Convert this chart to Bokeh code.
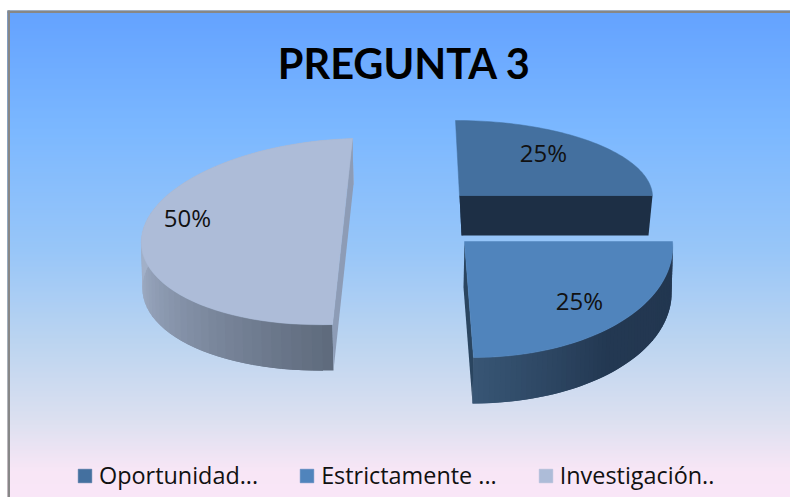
import numpy as np
from bokeh.embed import file_html
from bokeh.resources import INLINE
from bokeh.plotting import figure
from bokeh.models import Range1d, Legend, LegendItem
from bokeh.core.properties import value

title_text = "PREGUNTA 3"
categories = ["Oportunidad...", "Estrictamente ...", "Investigación.."]
shares = [25, 25, 50]

W, H = 790, 497
p = figure(width=W, height=H, output_backend="svg", toolbar_location=None,
           x_range=Range1d(0, W), y_range=Range1d(H, 0),
           min_border=0, background_fill_color="white", border_fill_color="white")
p.axis.visible = False
p.grid.visible = False
p.outline_line_color = None


def hexs(rgb):
    return "#%02x%02x%02x" % tuple(int(round(c)) for c in rgb)


def ramp(stops, ts):
    pos = [s[0] for s in stops]
    out = []
    for t in ts:
        out.append(hexs([np.interp(t, pos, [s[1][i] for s in stops]) for i in range(3)]))
    return out


# background gradient: overlapping bands, one per pixel row
bg_stops = [(10, (0x64, 0xa2, 0xff)), (130, (0x7c, 0xb8, 0xff)), (250, (0x98, 0xc6, 0xf8)),
            (340, (0xbb, 0xd4, 0xf0)), (420, (0xdc, 0xe0, 0xf0)), (470, (0xf8, 0xe6, 0xf6)),
            (497, (0xf9, 0xe6, 0xf7))]
rows = np.arange(10, H)
p.quad(left=7, right=W, top=rows, bottom=np.minimum(rows + 3, H), fill_color=ramp(bg_stops, rows),
       line_color=None)
# frame on the left and top
p.quad(left=[7, 7], right=[9.5, W], top=[10, 10], bottom=[H, 12.5], fill_color="#878787",
       line_color=None)

# 3D pie: every slice is an affine view of a circle sector, angles come from the shares
geom = [
    dict(o=(459, 195), a=(193, 0), b=(-4, -75), d0=(2, 40), d1=(-4, 40), top="#44709f",
         wall=[(0, (0x1d, 0x2f, 0x45)), (1, (0x1d, 0x2f, 0x45))], cut="#1d2f45", cut2="#2c4a6c"),
    dict(o=(464, 241), a=(208, 0), b=(-9, -116), d0=(-1, 46), d1=(-1, 46), top="#5084bc",
         wall=[(0, (0x22, 0x36, 0x4f)), (0.55, (0x23, 0x38, 0x52)), (1, (0x38, 0x56, 0x75))],
         cut="#2a4560", cut2="#2a4560"),
    dict(o=(342, 231), a=(201, -6), b=(10, -93), d0=(1, 46), d1=(1, 46), top="#adbcd8",
         wall=[(0, (0x5e, 0x6a, 0x7c)), (0.25, (0x80, 0x8d, 0xa3)), (0.5, (0xa2, 0xb0, 0xc8)),
               (1, (0xa2, 0xb0, 0xc8))], cut="#8d9cb6", cut2="#8d9cb6"),
]

bounds = np.cumsum([0] + shares) / sum(shares) * 2 * np.pi
tops = {}
N = 60
for i in [2, 0, 1]:
    g = geom[i]
    th = np.linspace(bounds[i], bounds[i + 1], N + 1)
    ox, oy = g["o"]
    rx = ox + g["a"][0] * np.sin(th) + g["b"][0] * np.cos(th)
    ry = oy + g["a"][1] * np.sin(th) + g["b"][1] * np.cos(th)
    d = g["d1"]
    d0 = g["d0"]
    # curved outer wall, shaded band by band, bands overlap to avoid seams
    ts = (np.arange(N) + 0.5) / N
    idx = [(j, min(j + 2, N)) for j in range(N)]
    xs = [[rx[j], rx[k], rx[k] + d[0], rx[j] + d[0]] for j, k in idx]
    ys = [[ry[j], ry[k], ry[k] + d[1], ry[j] + d[1]] for j, k in idx]
    cols = ramp(g["wall"], ts)
    if i != 0:
        p.patches(xs, ys, fill_color=cols, line_color=None)
    # straight cut walls
    if i == 2:
        p.patch([rx[-1], rx[0], rx[0] + d[0], rx[-1] + d[0]], [ry[-1], ry[0], ry[0] + d[1], ry[-1] + d[1]],
                fill_color=g["cut"], line_color=None)
    elif i == 1:
        p.patch([ox, rx[-1], rx[-1] + d[0], ox + d[0]], [oy, ry[-1], ry[-1] + d[1], oy + d[1]],
                fill_color=g["cut"], line_color=None)
    else:
        p.patch([rx[-1], ox, ox + d0[0]], [ry[-1], oy, oy + d0[1]], fill_color=g["cut2"], line_color=None)
        p.patch([ox, rx[-1], rx[-1] + d[0], ox + d0[0]], [oy, ry[-1], ry[-1] + d[1], oy + d0[1]],
                fill_color=g["cut"], line_color=None)
    # top face
    if i == 2:
        fx, fy = rx, ry
    else:
        fx, fy = np.r_[ox, rx], np.r_[oy, ry]
    tops[i] = p.patch(fx, fy, fill_color=g["top"], line_color=g["top"], line_width=0.5)

p.text(x=[404], y=[62], text=[title_text], text_font=value("Lato"), text_font_style="bold",
       text_font_size="41.5px", text_color="#000000", text_align="center", text_baseline="middle")

p.text(x=[543, 579, 187], y=[152, 300, 217], text=[f"{s}%" for s in shares],
       text_font=value("Open Sans"), text_font_size="24px", text_color="#111111",
       text_align="center", text_baseline="middle")

legend = Legend(items=[LegendItem(label=c, renderers=[tops[i]]) for i, c in enumerate(categories)],
                orientation="horizontal", location=(76, 6), spacing=40, padding=0, margin=0,
                glyph_width=17, glyph_height=17, label_standoff=6,
                label_text_font="Open Sans", label_text_font_size="23.4px", label_text_color="#111111",
                background_fill_alpha=0, border_line_color=None)
p.add_layout(legend, "center")

open("out.html", "w").write(file_html(p, INLINE))
